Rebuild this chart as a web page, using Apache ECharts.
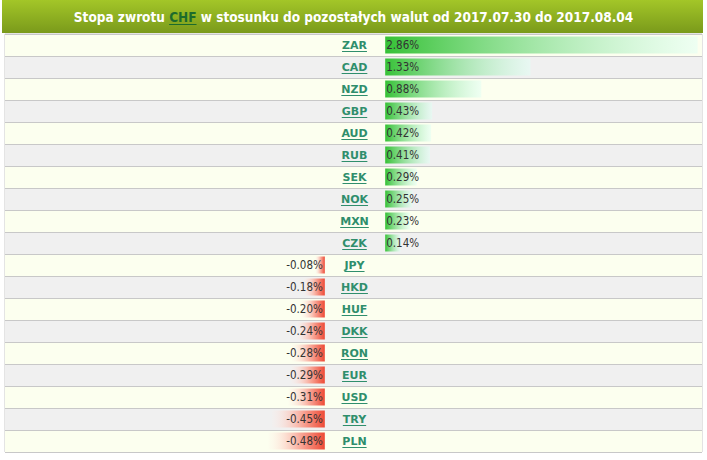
<!DOCTYPE html>
<html><head><meta charset="utf-8">
<script src="https://cdn.jsdelivr.net/npm/echarts@6/dist/echarts.min.js"></script>
<style>html,body{margin:0;padding:0;background:#fff}#c{width:707px;height:460px}</style>
</head><body><div id="c"></div>
<script>
// ---- data ----
const currencies = ['ZAR','CAD','NZD','GBP','AUD','RUB','SEK','NOK','MXN','CZK','JPY','HKD','HUF','DKK','RON','EUR','USD','TRY','PLN'];
const returns = [2.86,1.33,0.88,0.43,0.42,0.41,0.29,0.25,0.23,0.14,-0.08,-0.18,-0.20,-0.24,-0.28,-0.29,-0.31,-0.45,-0.48];
const titleParts = ['Stopa zwrotu ', 'CHF', ' w stosunku do pozostałych walut od 2017.07.30 do 2017.08.04'];

// ---- style ----
const TOP = 34, ROWH = 22, H = currencies.length * ROWH;
const gridLine = '#c8c8c8';
const rowColors = ['#fcffef', '#f0f0f0'];
const valueFont = '"DejaVu Sans Condensed", "DejaVu Sans", sans-serif';
const codeFontCss = 'bold 11px "DejaVu Sans", sans-serif';
const codeColor = '#2f8e6c';
const titleFontCss = 'bold 13.5px "DejaVu Sans Condensed", "DejaVu Sans", sans-serif';

const mctx = document.createElement('canvas').getContext('2d');
function tw(text, font){ mctx.font = font; return mctx.measureText(text).width; }

const chart = echarts.init(document.getElementById('c'), null, {renderer: 'svg'});

const fmt = v => v.toFixed(2) + '%';
const negData = returns.map(v => v < 0 ? v : '-');
const posData = returns.map(v => v >= 0 ? v : '-');

function yAx(i){
  return {
    type: 'category', gridIndex: i, data: currencies, inverse: true,
    axisLine: {show: false}, axisTick: {show: false}, axisLabel: {show: false},
    splitLine: {show: true, interval: 0, lineStyle: {color: gridLine, width: 1}},
    splitArea: {show: true, interval: 0, areaStyle: {color: rowColors}}
  };
}
function xAx(i, min, max){
  return {type: 'value', gridIndex: i, min, max, show: false, splitLine: {show: false}};
}

// title pieces
const tWidths = titleParts.map(t => tw(t, titleFontCss));
const tTotal = tWidths.reduce((a, b) => a + b, 0);
let tx = 353.5 - tTotal / 2;
const titleEls = [];
const titleColors = ['#ffffff', '#1c6b2c', '#ffffff'];
titleParts.forEach((t, i) => {
  titleEls.push({type: 'text', x: tx, y: 17, z: 10,
    style: {text: t, font: titleFontCss, fill: titleColors[i], textAlign: 'left', align: 'left', textVerticalAlign: 'middle', verticalAlign: 'middle'}});
  if (i === 1) {
    titleEls.push({type: 'line', z: 10, shape: {x1: tx, y1: 24.5, x2: tx + tWidths[i], y2: 24.5}, style: {stroke: titleColors[i], lineWidth: 1}});
  }
  tx += tWidths[i];
});

const option = {
  animation: false,
  backgroundColor: '#ffffff',
  graphic: [
    {type: 'rect', left: 2, top: 0, z: 5, shape: {width: 701, height: 33},
     style: {fill: {type: 'linear', x: 0, y: 0, x2: 0, y2: 1, colorStops: [{offset: 0, color: '#a3c628'}, {offset: 1, color: '#7a9a1b'}]}}},
    ...titleEls
  ],
  grid: [
    {left: 5, top: TOP, width: 321, height: H, show: true, borderColor: gridLine, borderWidth: 1, backgroundColor: 'transparent'},
    {left: 326, top: TOP, width: 57, height: H, show: true, borderColor: gridLine, borderWidth: 1, backgroundColor: 'transparent'},
    {left: 383, top: TOP, width: 319, height: H, show: true, borderColor: gridLine, borderWidth: 1, backgroundColor: 'transparent'}
  ],
  xAxis: [xAx(0, -2.72, 0.01), xAx(1, -1, 1), xAx(2, -0.02, 2.9)],
  yAxis: [yAx(0), yAx(1), yAx(2)],
  series: [
    {
      type: 'bar', xAxisIndex: 0, yAxisIndex: 0, data: negData, barWidth: 17,
      itemStyle: {color: {type: 'linear', x: 0, y: 0, x2: 1, y2: 0, colorStops: [
        {offset: 0, color: 'rgba(255,236,230,0.1)'}, {offset: 0.55, color: '#f9ad9e'}, {offset: 1, color: '#ee4a36'}]}},
      label: {show: true, position: 'insideRight', distance: 2, color: '#333', fontSize: 11.5, fontFamily: valueFont,
        formatter: p => fmt(p.value)}
    },
    {
      type: 'bar', xAxisIndex: 2, yAxisIndex: 2, data: posData, barWidth: 17,
      itemStyle: {color: {type: 'linear', x: 0, y: 0, x2: 1, y2: 0, colorStops: [
        {offset: 0, color: '#36c136'}, {offset: 1, color: 'rgba(225,255,245,0.5)'}]}},
      label: {show: true, position: 'insideLeft', distance: 1, color: '#333', fontSize: 11.5, fontFamily: valueFont,
        formatter: p => fmt(p.value)}
    },
    {
      type: 'custom', xAxisIndex: 1, yAxisIndex: 1,
      data: currencies.map((c, i) => [0, i]),
      renderItem: (params, api) => {
        const idx = api.value(1);
        const p = api.coord([0, idx]);
        const name = currencies[idx];
        const w = tw(name, codeFontCss);
        return {type: 'group', children: [
          {type: 'text', x: p[0], y: p[1], style: {text: name, font: codeFontCss, fill: codeColor,
            textAlign: 'center', align: 'center', textVerticalAlign: 'middle', verticalAlign: 'middle'}},
          {type: 'line', shape: {x1: p[0] - w / 2, y1: Math.round(p[1]) + 6.5, x2: p[0] + w / 2, y2: Math.round(p[1]) + 6.5},
            style: {stroke: codeColor, lineWidth: 1}}
        ]};
      }
    }
  ]
};
chart.setOption(option);
</script>
</body></html>
